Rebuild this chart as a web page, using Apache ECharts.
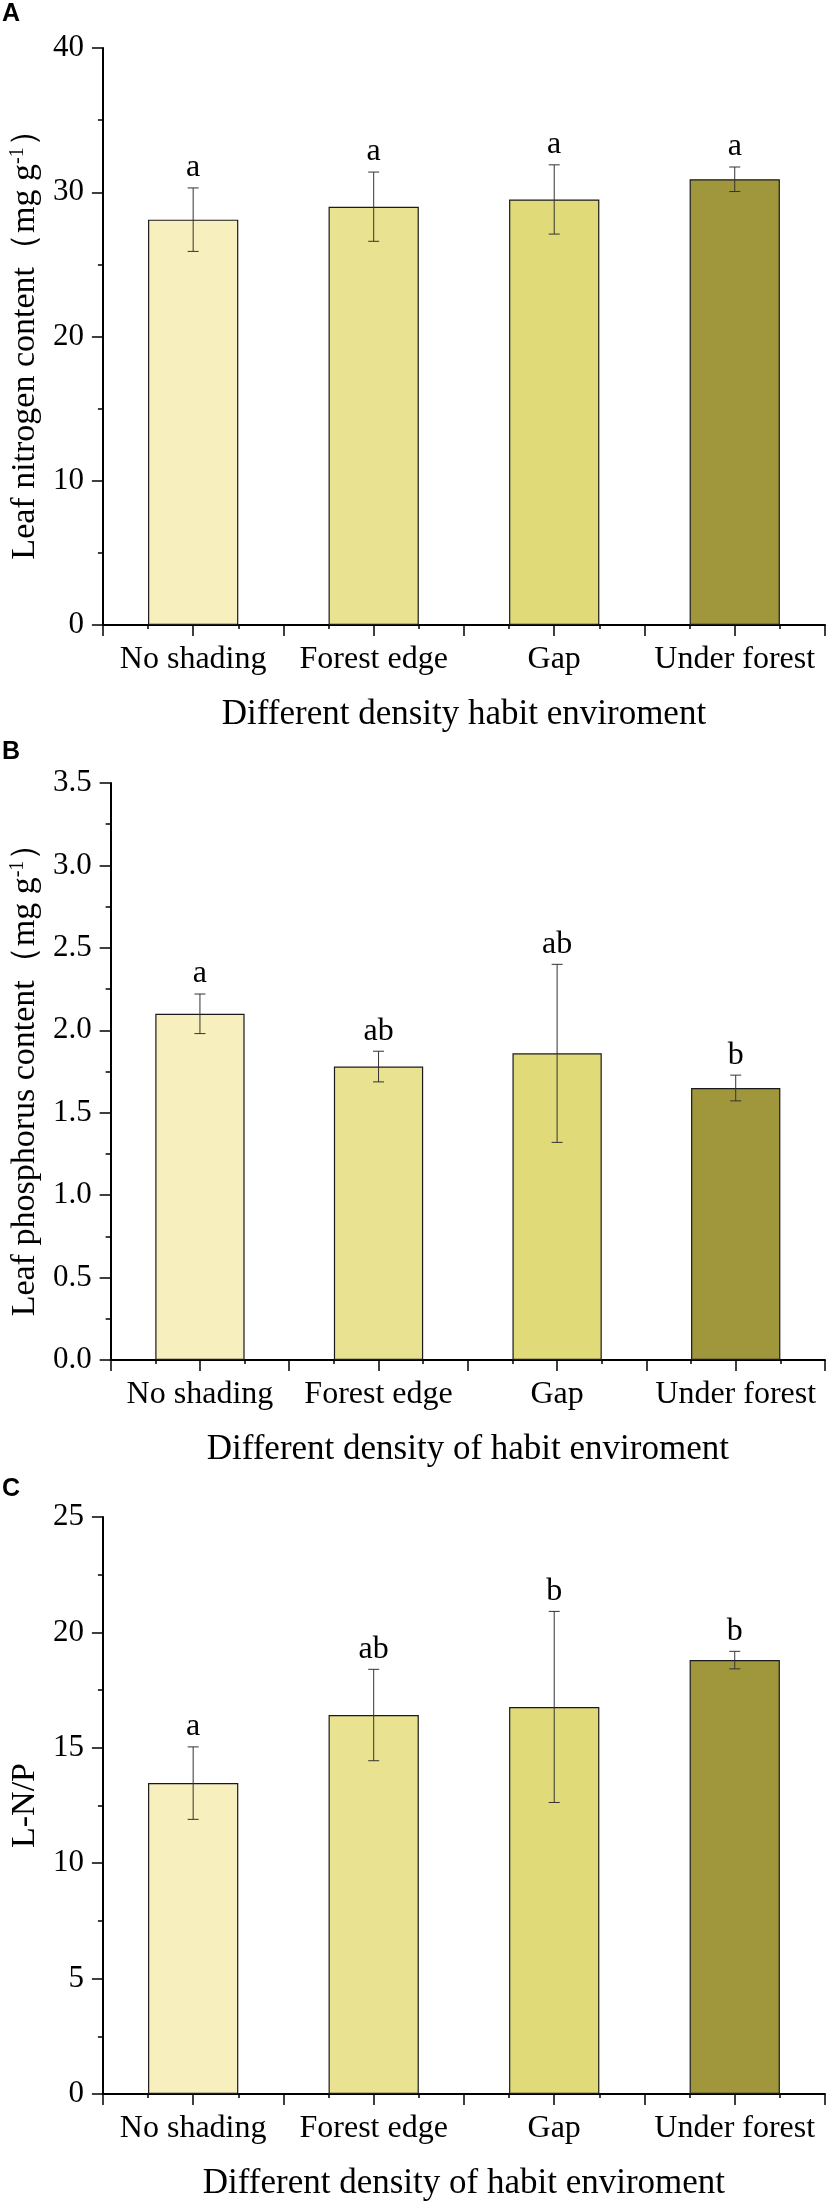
<!DOCTYPE html>
<html>
<head>
<meta charset="utf-8">
<script src="https://cdn.jsdelivr.net/npm/echarts@6/dist/echarts.min.js"></script>
<style>
  html, body { margin: 0; padding: 0; background: #fff; }
  #chart { width: 827px; height: 2202px; }
</style>
</head>
<body>
<div id="chart"></div>
<script>
var categories = ['No shading', 'Forest edge', 'Gap', 'Under forest'];
var barColors = ['#F7EFBD', '#E8E291', '#E0DA78', '#A0963C'];

var nitrogenMean = [28.1, 29.0, 29.5, 30.9];
var nitrogenErr = [2.2, 2.4, 2.4, 0.85];
var nitrogenSig = ['a', 'a', 'a', 'a'];

var phosphorusMean = [2.10, 1.78, 1.86, 1.65];
var phosphorusErr = [0.12, 0.093, 0.54, 0.078];
var phosphorusSig = ['a', 'ab', 'ab', 'b'];

var ratioMean = [13.47, 16.42, 16.77, 18.80];
var ratioErr = [1.57, 1.98, 4.14, 0.38];
var ratioSig = ['a', 'ab', 'b', 'b'];

var serif = 'Liberation Serif';

var panels = [
    {
        letter: 'A', letterTop: 2,
        grid: { left: 98, top: 48, width: 727, height: 577 },
        max: 40, interval: 10, digits: 0,
        yName: 'Leaf nitrogen content（mg g{sup|-1}）',
        xName: 'Different density habit enviroment',
        mean: nitrogenMean, err: nitrogenErr, sig: nitrogenSig
    },
    {
        letter: 'B', letterTop: 740,
        grid: { left: 106, top: 783, width: 719, height: 577 },
        max: 3.5, interval: 0.5, digits: 1,
        yName: 'Leaf phosphorus content（mg g{sup|-1}）',
        xName: 'Different density of habit enviroment',
        mean: phosphorusMean, err: phosphorusErr, sig: phosphorusSig
    },
    {
        letter: 'C', letterTop: 1477,
        grid: { left: 96, top: 1517, width: 729, height: 578 },
        max: 25, interval: 5, digits: 0,
        yName: 'L-N/P',
        xName: 'Different density of habit enviroment',
        mean: ratioMean, err: ratioErr, sig: ratioSig
    }
];

function blanks(n) {
    var a = [];
    for (var i = 0; i < n; i++) a.push('');
    return a;
}

var grids = [], xAxes = [], yAxes = [], series = [], graphics = [];

panels.forEach(function (p, k) {
    grids.push(p.grid);

    // main category axis: line, labels, name
    xAxes.push({
        type: 'category', gridIndex: k, data: categories, position: 'bottom',
        axisLine: { show: true, lineStyle: { color: '#000', width: 2 } },
        axisTick: { show: false },
        axisLabel: {
            color: '#000', fontFamily: serif, fontSize: 32, margin: 19, interval: 0,
            formatter: function (v) { return '{t|' + v + '}'; },
            rich: { t: { fontFamily: serif, fontSize: 32, color: '#000' } }
        },
        name: p.xName, nameLocation: 'middle', nameGap: 72,
        nameTextStyle: { color: '#000', fontFamily: serif, fontSize: 35 },
        splitLine: { show: false }
    });
    // long ticks at boundaries and centres
    xAxes.push({
        type: 'category', gridIndex: k, data: blanks(8), position: 'bottom', offset: 0,
        axisLine: { show: false },
        axisTick: { show: true, length: 11, lineStyle: { color: '#000', width: 1.5 } },
        axisLabel: { show: false }, splitLine: { show: false }
    });
    // short ticks at bar edges
    xAxes.push({
        type: 'category', gridIndex: k, data: blanks(16), position: 'bottom', offset: 0,
        axisLine: { show: false },
        axisTick: { show: true, length: 4, lineStyle: { color: '#000', width: 1.5 } },
        axisLabel: { show: false }, splitLine: { show: false }
    });

    yAxes.push({
        type: 'value', gridIndex: k, min: 0, max: p.max, interval: p.interval,
        axisLine: { show: true, lineStyle: { color: '#000', width: 2 } },
        axisTick: { show: true, length: 11, lineStyle: { color: '#000', width: 1.5 } },
        minorTick: { show: true, splitNumber: 2, length: 5, lineStyle: { color: '#000', width: 1.5 } },
        splitLine: { show: false },
        axisLabel: {
            color: '#000', fontFamily: serif, fontSize: 31, margin: 19,
            formatter: function (v) { return '{t|' + v.toFixed(p.digits) + '}'; },
            rich: { t: { fontFamily: serif, fontSize: 31, color: '#000' } }
        },
        name: p.yName, nameLocation: 'middle', nameGap: p.grid.left - 39,
        nameTextStyle: {
            color: '#000', fontFamily: serif, fontSize: 34,
            rich: { sup: { fontFamily: serif, fontSize: 20, verticalAlign: 'top', color: '#000' } }
        }
    });

    series.push({
        type: 'bar', xAxisIndex: k * 3, yAxisIndex: k, barWidth: '50%',
        data: p.mean.map(function (v, i) {
            return { value: v, itemStyle: { color: barColors[i] } };
        }),
        itemStyle: { borderColor: '#1a1a1a', borderWidth: 1.2 },
        silent: true
    });

    series.push({
        type: 'custom', xAxisIndex: k * 3, yAxisIndex: k, z: 5, silent: true,
        data: p.mean.map(function (v, i) { return [i, v, p.err[i]]; }),
        renderItem: function (params, api) {
            var x = api.value(0), m = api.value(1), e = api.value(2);
            var hi = api.coord([x, m + e]);
            var lo = api.coord([x, m - e]);
            var cap = 5.5;
            var st = { stroke: '#333', lineWidth: 1 };
            return {
                type: 'group',
                children: [
                    { type: 'line', shape: { x1: hi[0], y1: hi[1], x2: lo[0], y2: lo[1] }, style: st },
                    { type: 'line', shape: { x1: hi[0] - cap, y1: hi[1], x2: hi[0] + cap, y2: hi[1] }, style: st },
                    { type: 'line', shape: { x1: lo[0] - cap, y1: lo[1], x2: lo[0] + cap, y2: lo[1] }, style: st },
                    {
                        type: 'text', x: hi[0], y: hi[1] - 4,
                        style: {
                            text: p.sig[params.dataIndex], fill: '#000',
                            font: '32px "Liberation Serif"', align: 'center', verticalAlign: 'bottom'
                        }
                    }
                ]
            };
        }
    });

    graphics.push({
        type: 'text', left: 2, top: p.letterTop,
        style: { text: p.letter, fill: '#000', font: 'bold 25px "Liberation Sans"' }
    });
});

var chart = echarts.init(document.getElementById('chart'));
chart.setOption({
    animation: false,
    backgroundColor: '#fff',
    textStyle: { fontFamily: serif, color: '#000' },
    grid: grids,
    xAxis: xAxes,
    yAxis: yAxes,
    series: series,
    graphic: graphics
});
</script>
</body>
</html>
